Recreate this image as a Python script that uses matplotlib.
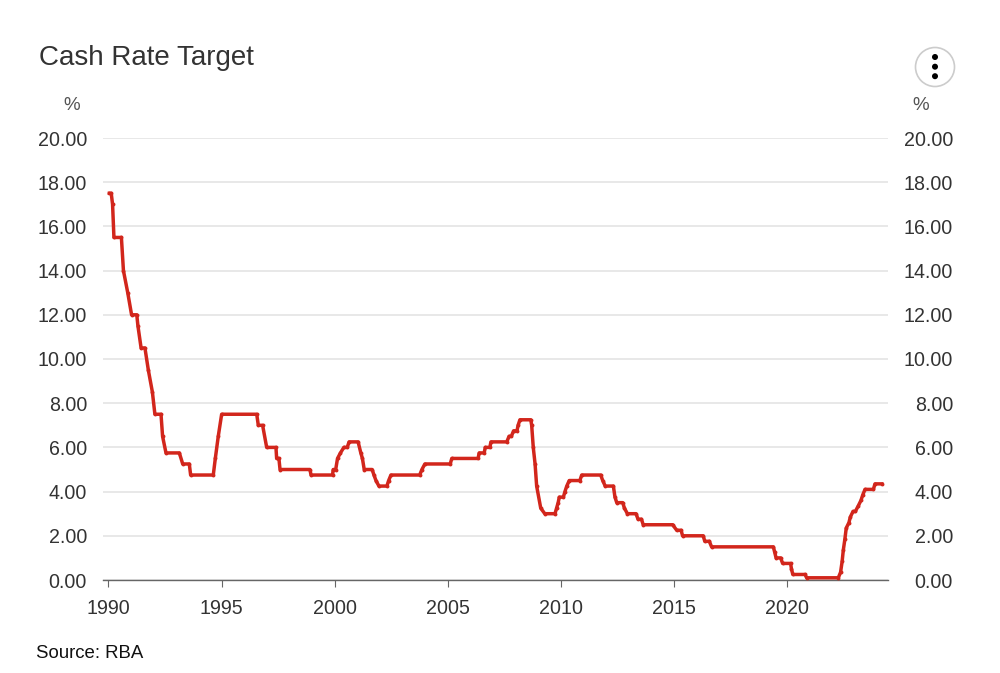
import matplotlib
matplotlib.use("Agg")
from matplotlib import pyplot as plt
from matplotlib.patches import Circle

plt.rcParams['font.family'] = ['Liberation Sans', 'DejaVu Sans']

# Decimal year, cash rate %
years = [
    1990.04, 1990.12, 1990.18, 1990.24, 1990.57, 1990.66, 1990.85, 1991.02, 1991.25, 1991.30,
    1991.44, 1991.61, 1991.76, 1991.94, 1992.05, 1992.32, 1992.39, 1992.54, 1993.13, 1993.28,
    1993.57, 1993.63, 1994.63, 1994.72, 1994.85, 1995.00, 1996.55, 1996.62, 1996.81, 1996.99,
    1997.40, 1997.43, 1997.53, 1997.58, 1998.90, 1998.95, 1999.90, 1999.93, 2000.04, 2000.12,
    2000.25, 2000.40, 2000.55, 2000.63, 2001.03, 2001.15, 2001.22, 2001.30, 2001.65, 2001.73,
    2001.82, 2001.95, 2002.30, 2002.38, 2002.48, 2003.75, 2003.85, 2003.98, 2005.10, 2005.17,
    2006.33, 2006.38, 2006.60, 2006.65, 2006.85, 2006.90, 2007.60, 2007.70, 2007.80, 2007.90,
    2008.05, 2008.10, 2008.18, 2008.66, 2008.70, 2008.77, 2008.85, 2008.92, 2009.10, 2009.28,
    2009.73, 2009.80, 2009.87, 2009.92, 2010.10, 2010.17, 2010.25, 2010.36, 2010.83, 2010.91,
    2011.75, 2011.84, 2011.95, 2012.31, 2012.38, 2012.46, 2012.72, 2012.80, 2012.93, 2013.31,
    2013.40, 2013.55, 2013.63, 2014.93, 2015.11, 2015.30, 2015.37, 2016.28, 2016.35, 2016.55,
    2016.65, 2019.38, 2019.44, 2019.50, 2019.70, 2019.79, 2020.14, 2020.18, 2020.24, 2020.78,
    2020.85, 2022.25, 2022.35, 2022.42, 2022.47, 2022.54, 2022.60, 2022.72, 2022.78, 2022.90,
    2023.00, 2023.13, 2023.25, 2023.33, 2023.43, 2023.80, 2023.87, 2024.17,
]
rates = [
    17.50, 17.50, 17.00, 15.50, 15.50, 14.00, 13.00, 12.00, 12.00, 11.50,
    10.50, 10.50, 9.50, 8.50, 7.50, 7.50, 6.50, 5.75, 5.75, 5.25,
    5.25, 4.75, 4.75, 5.50, 6.50, 7.50, 7.50, 7.00, 7.00, 6.00,
    6.00, 5.50, 5.50, 5.00, 5.00, 4.75, 4.75, 5.00, 5.00, 5.50,
    5.75, 6.00, 6.00, 6.25, 6.25, 5.75, 5.50, 5.00, 5.00, 4.75,
    4.50, 4.25, 4.25, 4.50, 4.75, 4.75, 5.00, 5.25, 5.25, 5.50,
    5.50, 5.75, 5.75, 6.00, 6.00, 6.25, 6.25, 6.50, 6.50, 6.75,
    6.75, 7.00, 7.25, 7.25, 7.00, 6.00, 5.25, 4.25, 3.25, 3.00,
    3.00, 3.25, 3.50, 3.75, 3.75, 4.00, 4.25, 4.50, 4.50, 4.75,
    4.75, 4.50, 4.25, 4.25, 3.75, 3.50, 3.50, 3.25, 3.00, 3.00,
    2.75, 2.75, 2.50, 2.50, 2.25, 2.25, 2.00, 2.00, 1.75, 1.75,
    1.50, 1.50, 1.25, 1.00, 1.00, 0.75, 0.75, 0.50, 0.25, 0.25,
    0.10, 0.10, 0.35, 0.85, 1.35, 1.85, 2.35, 2.60, 2.85, 3.10,
    3.10, 3.35, 3.60, 3.85, 4.10, 4.10, 4.35, 4.35,
]
year_ticks = [1990, 1995, 2000, 2005, 2010, 2015, 2020]
rate_ticks = [0, 2, 4, 6, 8, 10, 12, 14, 16, 18, 20]
rate_labels = ["%.2f" % r for r in rate_ticks]

W, H = 1000, 673
fig = plt.figure(figsize=(W / 100, H / 100), dpi=100, facecolor="white")

# plot area in pixels: x 103..888, y 138..580
ax = fig.add_axes([103 / W, 1 - 580 / H, 785 / W, 442 / H])
px_per_year = 22.63
ax.set_xlim(1990 - 5.5 / px_per_year, 1990 + 779.5 / px_per_year)
ax.set_ylim(0, 20)

ax.plot(years, rates, color="#d2261c", lw=2.5, marker="o", ms=2.8, mew=0,
        solid_joinstyle="round", clip_on=False, zorder=3)

for side in ["top", "left", "right"]:
    ax.spines[side].set_visible(False)
ax.spines["bottom"].set_color("#666666")
ax.spines["bottom"].set_linewidth(1.0)

ax.set_xticks(year_ticks)
ax.set_xticklabels([str(y) for y in year_ticks], fontsize=14.1, color="#333333")
ax.tick_params(axis="x", length=5, width=0.8, color="#666666", pad=8.7)

ax.set_yticks(rate_ticks)
ax.set_yticklabels(rate_labels, fontsize=14.1, color="#333333")
ax.tick_params(axis="y", length=0, pad=11.5)
ax.grid(axis="y", color="#e2e2e2", lw=1.1)
ax.set_axisbelow(True)

# right hand labels are right aligned too, ending at x=953
ax2 = ax.twinx()
ax2.set_ylim(0, 20)
ax2.set_yticks(rate_ticks)
ax2.set_yticklabels(rate_labels, fontsize=14.1, color="#333333", ha="right")
ax2.tick_params(axis="y", length=0, pad=46.8)
for side in ["top", "left", "right", "bottom"]:
    ax2.spines[side].set_visible(False)

fig.text(39 / W, 1 - 58 / H, "Cash Rate Target", fontsize=19.95, color="#333333", va="center", ha="left")
fig.text(72 / W, 1 - 105.5 / H, "%", fontsize=13.5, color="#555555", va="center", ha="center")
fig.text(920.5 / W, 1 - 105.5 / H, "%", fontsize=13.5, color="#555555", va="center", ha="center")
fig.text(36 / W, 1 - 654 / H, "Source: RBA", fontsize=13.4, color="#111111", va="center", ha="left")

# menu button, top right
overlay = fig.add_axes([0, 0, 1, 1], facecolor="none")
overlay.set_xlim(0, W)
overlay.set_ylim(H, 0)
overlay.axis("off")
overlay.add_patch(Circle((935, 67), 19.5, fc="white", ec="#cccccc", lw=1.2))
for dot_y in [57, 66.7, 76.2]:
    overlay.add_patch(Circle((935, dot_y), 3, fc="black", ec="none"))

fig.savefig("out.png", dpi=100)
